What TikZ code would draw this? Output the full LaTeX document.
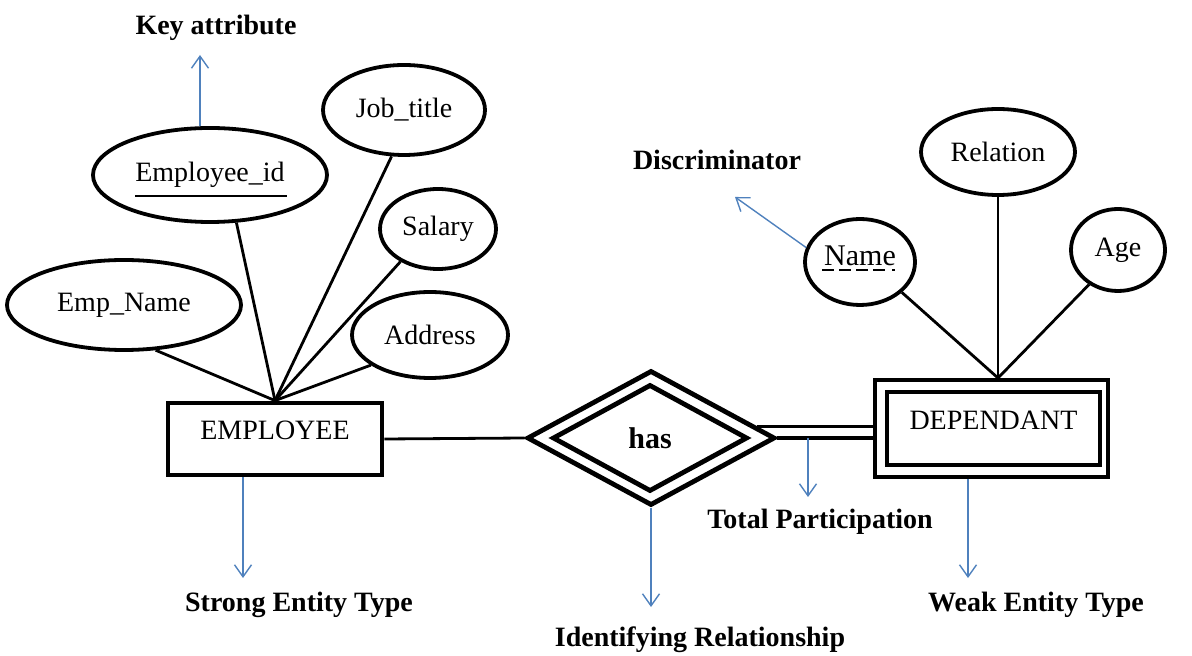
\documentclass[tikz,border=0pt]{standalone}
\usepackage{fontspec}
\setmainfont{Liberation Serif}
\usetikzlibrary{shapes.geometric,arrows.meta,calc}
\definecolor{callout}{HTML}{4F81BD}
\begin{document}
\begin{tikzpicture}[x=0.5pt,y=-0.5pt,
  attr/.style={ellipse, draw, line width=1.9pt, inner sep=0pt, font=\fontsize{14}{16}\selectfont},
  link/.style={line width=1.4pt},
  note/.style={draw=callout, line width=0.7pt, -{Straight Barb[length=6pt,width=8.5pt]}},
  tag/.style={font=\bfseries\fontsize{14}{16}\selectfont, inner sep=0pt},
  entity/.style={rectangle, draw, line width=2.4pt, inner sep=0pt,
    font=\fontsize{14}{16}\selectfont, text height=10pt, text depth=9pt},
  relbox/.style={diamond, draw, line width=2.4pt, inner sep=0pt}
]
\useasboundingbox (0,0) rectangle (1192,656);

% strong entity and its attributes
\node[entity, minimum width=107pt, minimum height=36pt] (emp) at (275,439) {EMPLOYEE};
\node[attr, minimum width=117pt, minimum height=45pt] (ename) at (124,305) {Emp\_Name};
\node[attr, minimum width=117pt, minimum height=47pt] (eid) at (210,175) {Employee\_id};
\draw[line width=1.3pt] (135,196) -- (287,196);
\node[attr, minimum width=81pt, minimum height=45pt] (job) at (404,110) {Job\_title};
\node[attr, minimum width=58pt, minimum height=40pt] (sal) at (438,229) {Salary};
\node[attr, minimum width=78pt, minimum height=43pt] (addr) at (430,335) {Address};

\draw[link] (emp.north) -- (ename.-55);
\draw[link] (emp.north) -- (eid.-61);
\draw[link] (emp.north) -- (job.-105);
\draw[link] (emp.north) -- (sal.-139);
\draw[link] (emp.north) -- (addr.-153);

% identifying relationship
\node[relbox, minimum width=124pt, minimum height=67.5pt] (has) at (651,438) {};
\node[relbox, minimum width=97.5pt, minimum height=53.5pt,
  font=\bfseries\fontsize{15}{17}\selectfont] (hasin) at (650,438) {has};

% weak entity and its attributes
\node[rectangle, draw, line width=2pt, minimum width=116.5pt, minimum height=48.5pt] (dep) at (991.5,428.5) {};
\node[entity, minimum width=106.5pt, minimum height=36.5pt] (depin) at (993.5,428.5) {DEPENDANT};
\node[attr, minimum width=55pt, minimum height=43pt, font=\fontsize{15}{17}\selectfont,
  text height=8pt, text depth=4pt] (nm) at (860,262) {Name};
\draw[line width=1.3pt, dash pattern=on 6pt off 2.5pt on 6pt off 2.5pt on 6pt off 2.5pt on 6pt off 3.5pt on 1.5pt off 10pt]
  (822,270) -- (900,270);
\node[attr, minimum width=77pt, minimum height=43pt] (rel) at (998,152) {Relation};
\node[attr, minimum width=47pt, minimum height=41pt] (age) at (1118,250) {Age};

\coordinate (dhub) at (dep.north -| rel.south);
\draw[link] (dhub) -- (nm.-36);
\draw[link] (dhub) -- (rel.south);
\draw[link] (dhub) -- (age.-130);

% participation lines
\draw[link] (emp.east) -- (has.west);
\coordinate (ptop) at ($(has.north)!0.84!(has.east)$);
\draw[line width=1.6pt] (has.east) -- (has.east -| dep.west);
\draw[line width=1.6pt] (ptop) -- (ptop -| dep.west);

% callouts
\coordinate (kat) at (200,55);
\draw[note] (kat |- eid.north) -- (kat);
\node[tag] (keylbl) at (216,28) {Key attribute};

\coordinate (dis) at (735,197);
\draw[note] (nm.165) -- (dis);
\node[tag] (dislbl) at (717,160) {Discriminator};

\coordinate (sat) at (243,578);
\draw[note] (emp.south -| sat) -- (sat);
\node[tag] (satlbl) at (299,605) {Strong Entity Type};

\coordinate (irt) at (651,607);
\draw[note] (has.south) -- (irt);
\node[tag] (irtlbl) at (700,640) {Identifying Relationship};

\coordinate (tpt) at (808,497);
\draw[note] (tpt |- has.east) -- (tpt);
\node[tag] (tptlbl) at (820,522) {Total Participation};

\coordinate (wet) at (968,578);
\draw[note] (dep.south -| wet) -- (wet);
\node[tag] (wetlbl) at (1036,605) {Weak Entity Type};
\end{tikzpicture}
\end{document}
